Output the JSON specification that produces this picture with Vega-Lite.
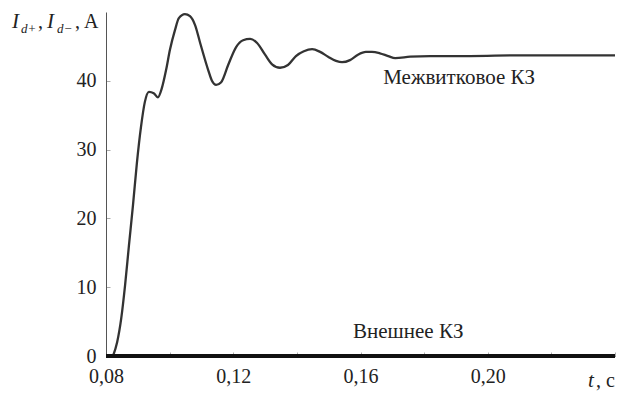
{
  "$schema": "https://vega.github.io/schema/vega-lite/v6.json",
  "width": 509,
  "height": 344,
  "autosize": {"type": "none"},
  "padding": {"left": 106, "top": 12, "right": 3, "bottom": 38},
  "background": "white",
  "config": {"view": {"stroke": null}, "font": "Liberation Serif, Times New Roman, DejaVu Serif, serif"},
  "datasets": {
    "interturn": [
      {"t": 0.0822, "I": 0},
      {"t": 0.0835, "I": 2.0},
      {"t": 0.0848, "I": 5.5},
      {"t": 0.0860, "I": 10.3},
      {"t": 0.0872, "I": 16.0},
      {"t": 0.0885, "I": 22.0},
      {"t": 0.0897, "I": 28.0},
      {"t": 0.0910, "I": 33.3},
      {"t": 0.0922, "I": 36.9},
      {"t": 0.0935, "I": 38.4},
      {"t": 0.0950, "I": 38.2},
      {"t": 0.0963, "I": 37.6},
      {"t": 0.0976, "I": 39.0},
      {"t": 0.0989, "I": 41.6},
      {"t": 0.1001, "I": 44.5},
      {"t": 0.1017, "I": 47.4},
      {"t": 0.1029, "I": 49.1},
      {"t": 0.1048, "I": 49.7},
      {"t": 0.1064, "I": 49.4},
      {"t": 0.1080, "I": 48.1},
      {"t": 0.1096, "I": 45.5},
      {"t": 0.1121, "I": 41.6},
      {"t": 0.1133, "I": 40.0},
      {"t": 0.1146, "I": 39.4},
      {"t": 0.1162, "I": 39.8},
      {"t": 0.1184, "I": 42.3},
      {"t": 0.1209, "I": 44.9},
      {"t": 0.1231, "I": 45.9},
      {"t": 0.1253, "I": 46.1},
      {"t": 0.1275, "I": 45.5},
      {"t": 0.1300, "I": 43.8},
      {"t": 0.1322, "I": 42.4},
      {"t": 0.1347, "I": 41.9},
      {"t": 0.1372, "I": 42.3},
      {"t": 0.1397, "I": 43.6},
      {"t": 0.1422, "I": 44.3},
      {"t": 0.1448, "I": 44.6},
      {"t": 0.1473, "I": 44.2},
      {"t": 0.1498, "I": 43.5},
      {"t": 0.1523, "I": 42.9},
      {"t": 0.1542, "I": 42.7},
      {"t": 0.1567, "I": 43.0},
      {"t": 0.1592, "I": 43.8},
      {"t": 0.1617, "I": 44.2},
      {"t": 0.1636, "I": 44.2},
      {"t": 0.1661, "I": 44.0},
      {"t": 0.1687, "I": 43.6},
      {"t": 0.1709, "I": 43.3},
      {"t": 0.1756, "I": 43.5},
      {"t": 0.1819, "I": 43.6},
      {"t": 0.1944, "I": 43.6},
      {"t": 0.2101, "I": 43.7},
      {"t": 0.2400, "I": 43.7}
    ],
    "external": [{"t": 0.08, "I": 0}, {"t": 0.24, "I": 0}],
    "labels": [
      {"t": 0.191, "I": 40.4, "text": "Межвитковое КЗ"},
      {"t": 0.175, "I": 3.5, "text": "Внешнее КЗ"}
    ],
    "titleMain": [
      {"t": 0.05045, "I": 47.67, "text": "I"},
      {"t": 0.06145, "I": 47.67, "text": "I"},
      {"t": 0.2315, "I": -4.5, "text": "t"}
    ],
    "titleSub": [
      {"t": 0.05328, "I": 46.95, "text": "d+"},
      {"t": 0.0646, "I": 46.95, "text": "d−"}
    ],
    "titlePlain": [
      {"t": 0.05862, "I": 47.67, "text": ","},
      {"t": 0.07025, "I": 47.67, "text": ", A"},
      {"t": 0.2340, "I": -4.5, "text": ", c"}
    ]
  },
  "encoding": {
    "x": {
      "field": "t",
      "type": "quantitative",
      "scale": {"domain": [0.08, 0.24], "nice": false, "zero": false}
    },
    "y": {
      "field": "I",
      "type": "quantitative",
      "scale": {"domain": [0, 50], "nice": false}
    }
  },
  "layer": [
    {
      "data": {"name": "interturn"},
      "mark": {"type": "line", "stroke": "#333333", "strokeWidth": 2.3, "interpolate": "monotone"},
      "encoding": {
        "x": {
          "field": "t",
          "type": "quantitative",
          "scale": {"domain": [0.08, 0.24], "nice": false, "zero": false},
          "axis": {
            "values": [0.08, 0.1, 0.12, 0.14, 0.16, 0.18, 0.2, 0.22, 0.24],
            "labelExpr": "(round(datum.value*100)%4==0 && round(datum.value*100)<=20) ? replace(format(datum.value,'.2f'),'.',',') : ''",
            "title": null,
            "grid": false,
            "domainColor": "#555555",
            "tickColor": "#aaaaaa",
            "tickSize": -4,
            "labelFontSize": 20,
            "labelFont": "Liberation Serif, Times New Roman, DejaVu Serif, serif",
            "labelColor": "#222222",
            "labelPadding": 14,
            "labelDx": 10,
            "labelFlush": false,
            "labelOverlap": false
          }
        },
        "y": {
          "field": "I",
          "type": "quantitative",
          "scale": {"domain": [0, 50], "nice": false},
          "axis": {
            "values": [0, 5, 10, 15, 20, 25, 30, 35, 40, 45],
            "labelExpr": "(datum.value%10==0) ? format(datum.value,'d') : ''",
            "title": null,
            "grid": false,
            "domainColor": "#555555",
            "tickColor": "#aaaaaa",
            "tickSize": -4,
            "labelFontSize": 20,
            "labelFont": "Liberation Serif, Times New Roman, DejaVu Serif, serif",
            "labelColor": "#222222",
            "labelPadding": 14,
            "labelDy": -2,
            "labelFlush": false,
            "labelOverlap": false
          }
        }
      }
    },
    {
      "data": {"name": "external"},
      "mark": {"type": "line", "stroke": "#111111", "strokeWidth": 4},
      "encoding": {}
    },
    {
      "data": {"name": "labels"},
      "mark": {"type": "text", "fontSize": 21, "color": "#222222", "align": "center", "baseline": "middle", "font": "Liberation Serif, Times New Roman, DejaVu Serif, serif"},
      "encoding": {"text": {"field": "text"}}
    },
    {
      "data": {"name": "titleMain"},
      "mark": {"type": "text", "fontSize": 21, "fontStyle": "italic", "color": "#222222", "align": "left", "baseline": "alphabetic", "font": "Liberation Serif, Times New Roman, DejaVu Serif, serif"},
      "encoding": {"text": {"field": "text"}}
    },
    {
      "data": {"name": "titleSub"},
      "mark": {"type": "text", "fontSize": 13, "fontStyle": "italic", "color": "#222222", "align": "left", "baseline": "alphabetic", "font": "Liberation Serif, Times New Roman, DejaVu Serif, serif"},
      "encoding": {"text": {"field": "text"}}
    },
    {
      "data": {"name": "titlePlain"},
      "mark": {"type": "text", "fontSize": 20, "color": "#222222", "align": "left", "baseline": "alphabetic", "font": "Liberation Serif, Times New Roman, DejaVu Serif, serif"},
      "encoding": {"text": {"field": "text"}}
    }
  ]
}
